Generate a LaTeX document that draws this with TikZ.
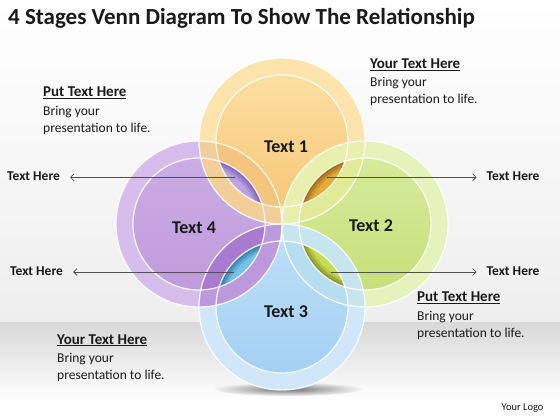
\documentclass[tikz,border=0pt]{standalone}
\usepackage{fontspec}
\setmainfont{Carlito}
\usetikzlibrary{arrows.meta}
\definecolor{bgA}{HTML}{EEEEEE}
\definecolor{bandTop}{HTML}{D8D8D8}
\definecolor{yRing}{HTML}{FCE4AC}
\definecolor{yInT}{HTML}{FBDFA2}
\definecolor{yInB}{HTML}{F7C878}
\definecolor{gRing}{HTML}{E4F2BC}
\definecolor{gInT}{HTML}{D6EA9C}
\definecolor{gInB}{HTML}{C6E07A}
\definecolor{bRing}{HTML}{CFE7F8}
\definecolor{bInT}{HTML}{BCDEF7}
\definecolor{bInB}{HTML}{A4D0F2}
\definecolor{pRing}{HTML}{D6BDEB}
\definecolor{pInT}{HTML}{CBACE4}
\definecolor{pInB}{HTML}{C09BDC}
\definecolor{ovYPa}{HTML}{F2CF98}
\definecolor{ovYPb}{HTML}{F3C57E}
\definecolor{ovYGa}{HTML}{E9EFAE}
\definecolor{ovYGb}{HTML}{E1EA98}
\definecolor{ovGBa}{HTML}{C6E5EF}
\definecolor{ovGBb}{HTML}{B6DDF0}
\definecolor{ovBPa}{HTML}{BC98DC}
\definecolor{ovBPb}{HTML}{A97BD0}
\definecolor{lYP}{HTML}{BCA4E4}
\definecolor{dYP}{HTML}{6A44A6}
\definecolor{lYG}{HTML}{E6A836}
\definecolor{dYG}{HTML}{73500C}
\definecolor{lGB}{HTML}{C8DC52}
\definecolor{dGB}{HTML}{657214}
\definecolor{lBP}{HTML}{72C2EC}
\definecolor{dBP}{HTML}{1C5C8A}
\definecolor{txt}{HTML}{1A1A1A}
\definecolor{arr}{HTML}{505050}
\def\Rout{83pt}
\def\Rin{66pt}
\begin{document}
\begin{tikzpicture}[x=1pt,y=-1pt,
  outline/.style={draw=white,line width=1.3pt,draw opacity=0.85},
  title/.style={anchor=base west,inner sep=0,font=\fontsize{23}{26}\selectfont\bfseries,text=txt},
  head/.style={anchor=base west,inner sep=0,font=\fontsize{15}{18}\selectfont\bfseries,text=txt},
  body/.style={anchor=base west,inner sep=0,font=\fontsize{13.5}{16}\selectfont,text=txt},
  cname/.style={inner sep=0,font=\fontsize{18}{21}\selectfont\bfseries,text=txt},
  side/.style={anchor=base west,inner ysep=0,inner xsep=10pt,font=\fontsize{13.5}{16}\selectfont\bfseries,text=txt},
  pointer/.style={draw=arr,line width=0.6pt,-{Straight Barb[length=3.5pt,width=7pt]}},
  logo/.style={anchor=base west,inner sep=0,font=\fontsize{10.5}{12}\selectfont,text=txt}]
\useasboundingbox (0,0) rectangle (560,420);
% background
\shade[top color=white,bottom color=bgA] (0,0) rectangle (560,322);
\shade[top color=bandTop,bottom color=white] (0,322) rectangle (560,400);
\fill[white] (0,400) rectangle (560,420);
% shadow
\shade[inner color=black!55,outer color=white!96!black] (288,389) ellipse [x radius=74pt,y radius=7pt];
% centres
\coordinate (cY) at (282,141);
\coordinate (cG) at (365,224);
\coordinate (cB) at (282,307);
\coordinate (cP) at (199,224);
% base disks
\fill[yRing] (cY) circle[radius=\Rout];
\shade[top color=yInT,bottom color=yInB] (cY) circle[radius=\Rin];
\fill[gRing] (cG) circle[radius=\Rout];
\shade[top color=gInT,bottom color=gInB] (cG) circle[radius=\Rin];
\fill[bRing] (cB) circle[radius=\Rout];
\shade[top color=bInT,bottom color=bInB] (cB) circle[radius=\Rin];
\fill[pRing] (cP) circle[radius=\Rout];
\shade[top color=pInT,bottom color=pInB] (cP) circle[radius=\Rin];
% overlaps
\begin{scope}\clip (cP) circle[radius=\Rout];
  \fill[ovYPa] (cY) circle[radius=\Rout];
  \fill[ovYPb] (cY) circle[radius=\Rin];
\end{scope}
\begin{scope}\clip (cY) circle[radius=\Rout];
  \fill[ovYGa] (cG) circle[radius=\Rout];
  \fill[ovYGb] (cG) circle[radius=\Rin];
\end{scope}
\begin{scope}\clip (cG) circle[radius=\Rout];
  \fill[ovGBa] (cB) circle[radius=\Rout];
  \fill[ovGBb] (cB) circle[radius=\Rin];
\end{scope}
\begin{scope}\clip (cB) circle[radius=\Rout];
  \fill[ovBPa] (cP) circle[radius=\Rout];
  \fill[ovBPb] (cP) circle[radius=\Rin];
\end{scope}
% lenses
\begin{scope}\clip (cY) circle[radius=\Rin]; \clip (cP) circle[radius=\Rin];
  \fill[lYP] (cP) circle[radius=\Rin];
  \foreach \w/\o in {14/0.2,9/0.3,4/0.4} \draw[line width=\w pt,draw=dYP,draw opacity=\o] (cP) circle[radius=\Rin];
\end{scope}
\begin{scope}\clip (cY) circle[radius=\Rin]; \clip (cG) circle[radius=\Rin];
  \fill[lYG] (cG) circle[radius=\Rin];
  \foreach \w/\o in {14/0.2,9/0.3,4/0.4} \draw[line width=\w pt,draw=dYG,draw opacity=\o] (cG) circle[radius=\Rin];
\end{scope}
\begin{scope}\clip (cG) circle[radius=\Rin]; \clip (cB) circle[radius=\Rin];
  \fill[lGB] (cB) circle[radius=\Rin];
  \foreach \w/\o in {14/0.2,9/0.3,4/0.4} \draw[line width=\w pt,draw=dGB,draw opacity=\o] (cG) circle[radius=\Rin];
\end{scope}
\begin{scope}\clip (cB) circle[radius=\Rin]; \clip (cP) circle[radius=\Rin];
  \fill[lBP] (cP) circle[radius=\Rin];
  \foreach \w/\o in {14/0.2,9/0.3,4/0.4} \draw[line width=\w pt,draw=dBP,draw opacity=\o] (cB) circle[radius=\Rin];
\end{scope}
% white outlines
\foreach \c in {cY,cG,cB,cP}{
  \draw[outline] (\c) circle[radius=\Rout];
  \draw[outline] (\c) circle[radius=\Rin];
}
% circle labels
\node[cname] (n1) at (286,147) {Text 1};
\node[cname] (n2) at (371,226) {Text 2};
\node[cname] (n3) at (286,312) {Text 3};
\node[cname] (n4) at (194,228) {Text 4};
% title
\node[title] (ttl) at (8,25) {4 Stages Venn Diagram To Show The Relationship};
% text blocks
\node[head] (h1) at (43,96.7) {\underline{Put Text Here}};
\node[body] (b1a) at (43,115) {Bring your};
\node[body] (b1b) at (43,132.5) {presentation to life.};
\node[head] (h2) at (370,68.3) {\underline{Your Text Here}};
\node[body] (b2a) at (370,86.5) {Bring your};
\node[body] (b2b) at (370,103.5) {presentation to life.};
\node[head] (h3) at (417,301.7) {\underline{Put Text Here}};
\node[body] (b3a) at (417,320) {Bring your};
\node[body] (b3b) at (417,337) {presentation to life.};
\node[head] (h4) at (57,344) {\underline{Your Text Here}};
\node[body] (b4a) at (57,362.5) {Bring your};
\node[body] (b4b) at (57,379.5) {presentation to life.};
% side labels and pointers
\node[side] (sL1) at (-3,180.7) {Text Here};
\node[side] (sL2) at (0,275) {Text Here};
\node[side] (sR1) at (476.5,180.5) {Text Here};
\node[side] (sR2) at (476.5,275.5) {Text Here};
\coordinate (pYP) at (235,177.3);
\coordinate (pYG) at (327,177.3);
\coordinate (pBP) at (234,272);
\coordinate (pGB) at (331,272);
\draw[pointer] (pYP) -- (pYP -| sL1.east);
\draw[pointer] (pBP) -- (pBP -| sL2.east);
\draw[pointer] (pYG) -- (pYG -| sR1.west);
\draw[pointer] (pGB) -- (pGB -| sR2.west);
\node[logo] (lg) at (501.5,410) {Your Logo};
\end{tikzpicture}
\end{document}
